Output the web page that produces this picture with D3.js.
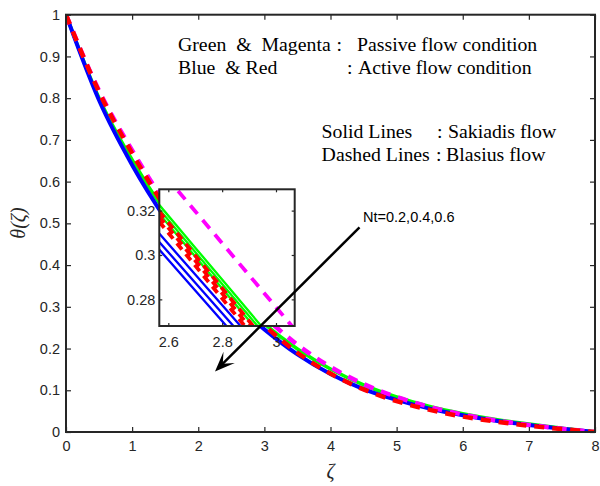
<!DOCTYPE html>
<html><head><meta charset="utf-8">
<script src="https://cdn.jsdelivr.net/npm/d3@7"></script>
<style>body{margin:0;background:#fff}text{white-space:pre}</style>
</head><body><svg id="c" width="600" height="486"></svg>
<script>
// ---------- data ----------
const zeta = [0,0.5,1,1.5,2,2.5,3,3.5,4,4.5,5,5.5,6,6.5,7,7.5,8];
const thetaGreen   = [1,0.800,0.652,0.528,0.424,0.332,0.259,0.199,0.151,0.113,0.084,0.061,0.044,0.030,0.019,0.009,0];
const thetaBlue    = [1,0.795,0.640,0.512,0.405,0.316,0.246,0.186,0.139,0.103,0.077,0.056,0.040,0.027,0.017,0.008,0];
const thetaMagenta = [1,0.818,0.675,0.549,0.441,0.348,0.276,0.209,0.156,0.115,0.084,0.060,0.042,0.028,0.017,0.008,0];
const thetaRed     = [1,0.815,0.668,0.538,0.423,0.327,0.255,0.190,0.140,0.102,0.074,0.053,0.037,0.025,0.015,0.007,0];

const insetZeta = [2.5,2.7,2.9,3.1];
const insetGreen = [[0.3321,0.3033,0.2745,0.2457],[0.3301,0.3013,0.2725,0.2437],[0.3281,0.2993,0.2705,0.2417]];
const insetBlue  = [[0.3188,0.2912,0.2636,0.2360],[0.3150,0.2875,0.2600,0.2325],[0.3116,0.2840,0.2564,0.2288]];
const insetRed   = [[0.3294,0.2998,0.2702,0.2406],[0.3271,0.2975,0.2679,0.2383],[0.3248,0.2952,0.2656,0.2360]];
const insetMagenta = [[0.3485,0.3197,0.2909,0.2621]];

const xTicks = [0,1,2,3,4,5,6,7,8];
const yTicks = [0,0.1,0.2,0.3,0.4,0.5,0.6,0.7,0.8,0.9,1];
const insetXTicks = [2.6,2.8,3];
const insetYTicks = [0.28,0.3,0.32];

const noteLeft  = ["Green  &  Magenta","Blue  & Red","Solid Lines","Dashed Lines"];
const noteRight = ["Passive flow condition","Active flow condition","Sakiadis flow","Blasius flow"];
const arrowLabel = "Nt=0.2,0.4,0.6";

// ---------- layout ----------
const svg = d3.select("#c");
const AX = "#262626";
const x = d3.scaleLinear().domain([0,8]).range([66,595]);
const y = d3.scaleLinear().domain([0,1]).range([432,14.7]);
const tickFont = "Liberation Sans, Arial, sans-serif";
const serif = "Liberation Serif, Times New Roman, serif";

svg.append("defs").append("clipPath").attr("id","mainclip")
  .append("rect").attr("x",66).attr("y",14.7).attr("width",529).attr("height",417.3);

// main curves
const mainLine = arr => d3.line().x((d,i)=>x(zeta[i])).y(d=>y(d)).curve(d3.curveMonotoneX)(arr);
const gMain = svg.append("g").attr("clip-path","url(#mainclip)");
const mainSeries = [
  {v:thetaGreen, c:"#00ff00", w:3.5, dash:null},
  {v:thetaBlue, c:"#0000ff", w:4, dash:null},
  {v:thetaMagenta, c:"#ff00ff", w:4.5, dash:"10,8"},
  {v:thetaRed, c:"#ff0000", w:4.5, dash:"10,8"}
];
mainSeries.forEach(s=>{
  gMain.append("path").attr("d",mainLine(s.v)).attr("fill","none")
    .attr("stroke",s.c).attr("stroke-width",s.w).attr("stroke-dasharray",s.dash);
});

// main axes
function styleAxis(g){
  g.select(".domain").remove();
  g.selectAll(".tick line").attr("stroke",AX).attr("stroke-width",1.2);
  g.selectAll(".tick text").attr("fill",AX).style("font-family",tickFont).style("font-size","14.5px");
}
svg.append("g").attr("transform","translate(0,432)")
  .call(d3.axisBottom(x).tickValues(xTicks).tickSizeInner(-5).tickSizeOuter(0).tickPadding(9).tickFormat(d3.format("")))
  .call(styleAxis);
svg.append("g").attr("transform","translate(0,14.7)")
  .call(d3.axisTop(x).tickValues(xTicks).tickSizeInner(-5).tickSizeOuter(0).tickFormat(""))
  .call(styleAxis);
svg.append("g").attr("transform","translate(66,0)")
  .call(d3.axisLeft(y).tickValues(yTicks).tickSizeInner(-5).tickSizeOuter(0).tickPadding(6).tickFormat(d3.format("")))
  .call(styleAxis);
svg.append("g").attr("transform","translate(595,0)")
  .call(d3.axisRight(y).tickValues(yTicks).tickSizeInner(-5).tickSizeOuter(0).tickFormat(""))
  .call(styleAxis);
svg.append("rect").attr("x",66).attr("y",14.7).attr("width",529).attr("height",417.3)
  .attr("fill","none").attr("stroke",AX).attr("stroke-width",2);

// axis labels
svg.append("text").attr("x",330.5).attr("y",478).attr("text-anchor","middle")
  .style("font-family",serif).style("font-style","italic")
  .style("font-size","20px").attr("fill",AX).text("ζ");
svg.append("text").attr("transform","translate(25,223) rotate(-90)").attr("text-anchor","middle")
  .style("font-family",serif).style("font-style","italic")
  .style("font-size","20px").attr("fill",AX).text("θ(ζ)");

// annotations
const noteY = [51,74,138,161];
const noteLX = [178,178,321.6,321.6];
const colonX = [336.5,347,437,436];
const noteRX = [357,358,448,446];
noteLeft.forEach((t,i)=>{
  svg.append("text").attr("x",noteLX[i]).attr("y",noteY[i])
    .style("font-family",serif).style("font-size","19.8px").text(t);
  svg.append("text").attr("x",colonX[i]).attr("y",noteY[i])
    .style("font-family",serif).style("font-size","19.8px").text(":");
  svg.append("text").attr("x",noteRX[i]).attr("y",noteY[i])
    .style("font-family",serif).style("font-size","19.8px").text(noteRight[i]);
});

// ---------- inset ----------
const xi = d3.scaleLinear().domain([2.5665,3.0695]).range([159.3,294.7]);
const yi = d3.scaleLinear().domain([0.268,0.3296]).range([326,189.3]);
svg.append("rect").attr("x",159.3).attr("y",189.3).attr("width",135.4).attr("height",136.7).attr("fill","#fff");
svg.select("defs").append("clipPath").attr("id","insetclip")
  .append("rect").attr("x",159.3).attr("y",189.3).attr("width",135.4).attr("height",136.7);
const gIn = svg.append("g").attr("clip-path","url(#insetclip)");
const insetLine = arr => d3.line().x((d,i)=>xi(insetZeta[i])).y(d=>yi(d))(arr);
const insetSeries = [
  {set:insetGreen, c:"#00ff00", w:2.3, dash:null},
  {set:insetBlue, c:"#0000ff", w:2.3, dash:null},
  {set:insetMagenta, c:"#ff00ff", w:3.8, dash:"11,8"},
  {set:insetRed, c:"#ff0000", w:3.8, dash:"8,6"}
];
insetSeries.forEach(s=>s.set.forEach(v=>{
  gIn.append("path").attr("d",insetLine(v)).attr("fill","none")
    .attr("stroke",s.c).attr("stroke-width",s.w).attr("stroke-dasharray",s.dash);
}));
const gInAx = svg.append("g");
gInAx.append("g").attr("transform","translate(0,326)")
  .call(d3.axisBottom(xi).tickValues(insetXTicks).tickSizeInner(-3).tickSizeOuter(0).tickPadding(11).tickFormat(d3.format("")))
  .call(styleAxis);
gInAx.append("g").attr("transform","translate(0,189.3)")
  .call(d3.axisTop(xi).tickValues(insetXTicks).tickSizeInner(-3).tickSizeOuter(0).tickFormat(""))
  .call(styleAxis);
gInAx.append("g").attr("transform","translate(159.3,0)")
  .call(d3.axisLeft(yi).tickValues(insetYTicks).tickSizeInner(-3).tickSizeOuter(0).tickPadding(4).tickFormat(d3.format("")))
  .call(styleAxis);
gInAx.append("g").attr("transform","translate(294.7,0)")
  .call(d3.axisRight(yi).tickValues(insetYTicks).tickSizeInner(-3).tickSizeOuter(0).tickFormat(""))
  .call(styleAxis);
svg.append("rect").attr("x",159.3).attr("y",189.3).attr("width",135.4).attr("height",136.7)
  .attr("fill","none").attr("stroke",AX).attr("stroke-width",2);

// ---------- arrow ----------
const tail = [359.5,227.3], tip = [215,371.5];
const dx = tip[0]-tail[0], dy = tip[1]-tail[1], L = Math.hypot(dx,dy);
const ux = dx/L, uy = dy/L, nx = -uy, ny = ux;
const HL = 20, HW = 8;
svg.append("line").attr("x1",tail[0]).attr("y1",tail[1])
  .attr("x2",tip[0]-ux*10).attr("y2",tip[1]-uy*10).attr("stroke","#000").attr("stroke-width",2.5);
svg.append("path").attr("fill","#000").attr("d",
  `M${tip[0]},${tip[1]} L${tip[0]-ux*HL+nx*HW},${tip[1]-uy*HL+ny*HW} L${tip[0]-ux*HL*0.55},${tip[1]-uy*HL*0.55} L${tip[0]-ux*HL-nx*HW},${tip[1]-uy*HL-ny*HW} Z`);
svg.append("text").attr("x",363).attr("y",222)
  .style("font-family",tickFont).style("font-size","14.5px").attr("fill","#000").text(arrowLabel);
</script></body></html>
